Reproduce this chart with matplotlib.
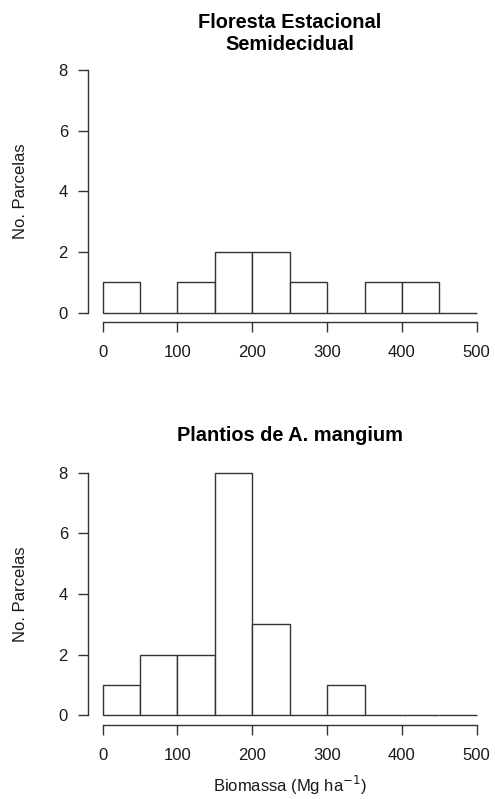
import matplotlib
matplotlib.use("Agg")
import matplotlib.pyplot as plt
import numpy as np

plt.rcParams['font.family'] = ['Liberation Sans', 'DejaVu Sans']

bin_edges = [0, 50, 100, 150, 200, 250, 300, 350, 400, 450, 500]
counts_fes = [1, 0, 1, 2, 2, 1, 0, 1, 1, 0]
counts_mangium = [1, 2, 2, 8, 3, 0, 1, 0, 0, 0]
x_ticks = [0, 100, 200, 300, 400, 500]
y_ticks = [0, 2, 4, 6, 8]
title_top = "Floresta Estacional\nSemidecidual"
title_bottom = "Plantios de A. mangium"
ylabel = "No. Parcelas"
xlabel = "Biomassa (Mg ha$^{-1}$)"

W, H = 495, 799
fig = plt.figure(figsize=(W / 100, H / 100), dpi=100)

line_col = '#333333'
text_col = '#1a1a1a'


def make_axes(top_px, bottom_px):
    left_px, right_px = 87.7, 491.7
    return fig.add_axes([left_px / W, 1 - bottom_px / H,
                         (right_px - left_px) / W, (bottom_px - top_px) / H])


def draw(ax, counts):
    edges = np.array(bin_edges)
    ax.bar(edges[:-1], counts, width=np.diff(edges), align='edge',
           facecolor='white', edgecolor=line_col, linewidth=1.0)
    ax.set_xlim(-20, 520)
    ax.set_ylim(-0.32, 8.32)
    for s in ['top', 'right']:
        ax.spines[s].set_visible(False)
    ax.spines['left'].set_bounds(0, 8)
    ax.spines['bottom'].set_bounds(0, 500)
    for s in ['left', 'bottom']:
        ax.spines[s].set_color(line_col)
        ax.spines[s].set_linewidth(1.0)
    ax.set_xticks(x_ticks)
    ax.set_yticks(y_ticks)
    ax.tick_params(axis='both', length=7.2, width=1.0, color=line_col,
                   labelsize=12, labelcolor=text_col)
    ax.tick_params(axis='x', pad=9)
    ax.tick_params(axis='y', pad=7)
    ax.set_ylabel(ylabel, fontsize=12, color=text_col, labelpad=22)


ax1 = make_axes(60.3, 322.4)
draw(ax1, counts_fes)
ax2 = make_axes(463.0, 725.0)
draw(ax2, counts_mangium)

xc = (87.7 + 491.7) / 2 / W
fig.text(xc, 1 - 50 / H, title_top, ha='center', va='baseline',
         fontsize=14.4, fontweight='bold', color='black', linespacing=1.2)
fig.text(xc, 1 - 440.7 / H, title_bottom, ha='center', va='baseline',
         fontsize=14.4, fontweight='bold', color='black')
fig.text(xc, 1 - 785 / H, xlabel, ha='center', va='center',
         fontsize=12, color=text_col)

fig.savefig("out.png", dpi=100, facecolor='white')
